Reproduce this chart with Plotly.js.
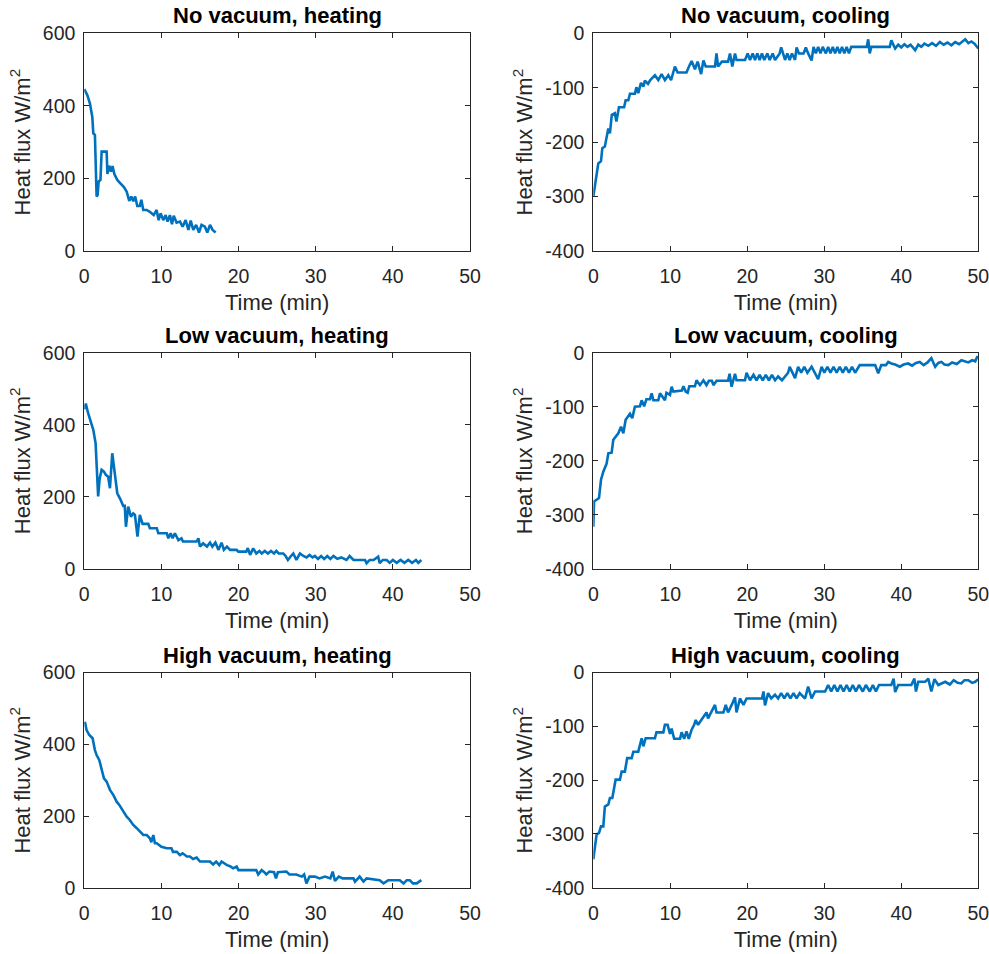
<!DOCTYPE html>
<html>
<head>
<meta charset="utf-8">
<script src="https://cdn.plot.ly/plotly-3.0.1.min.js"></script>
<style>
  html, body { margin: 0; padding: 0; background: #fff; }
  #chart { width: 989px; height: 954px; }
</style>
</head>
<body>
<div id="chart"></div>
<script>
// Heat flux measurements (W/m^2) against time (min) for three vacuum levels.

const panelTitles = [
  "No vacuum, heating", "No vacuum, cooling",
  "Low vacuum, heating", "Low vacuum, cooling",
  "High vacuum, heating", "High vacuum, cooling"
];

const xTickVals = [0, 10, 20, 30, 40, 50];
const xTickText = ["0", "10", "20", "30", "40", "50"];
const heatTickVals = [0, 200, 400, 600];
const heatTickText = ["0", "200", "400", "600"];
const coolTickVals = [-400, -300, -200, -100, 0];
const coolTickText = ["-400", "-300", "-200", "-100", "0"];

// No vacuum, heating
const noVacHeatT = [
  0, 0.39, 0.73, 1.04, 1.17, 1.38, 1.6, 1.73, 1.86, 2.1,
  2.25, 2.9, 3.0, 3.24, 3.46, 3.67, 3.9, 4.28, 4.62, 5.14,
  5.49, 5.83, 6.1, 6.35, 6.6, 6.87, 7.2, 7.4, 7.65, 8.1,
  8.5, 9.0, 9.38, 9.64, 9.9, 10.24, 10.55, 10.8, 11.1, 11.37,
  11.6, 11.97, 12.4, 12.75, 13.14, 13.5, 13.8, 14.13, 14.5, 14.87,
  15.2, 15.64, 15.95, 16.3, 16.64, 17.03
];
const noVacHeatQ = [
  446, 430, 407, 370, 324, 320, 150, 154, 191, 196,
  274, 274, 212, 235, 219, 234, 212, 196, 188, 176,
  164, 138, 150, 137, 150, 124, 124, 141, 113, 113,
  108, 99, 113, 85, 104, 85, 99, 81, 99, 74,
  97, 78, 81, 67, 85, 58, 84, 58, 72, 51,
  72, 67, 51, 72, 58, 51
];

// No vacuum, cooling
const noVacCoolT = [
  0, 0.22, 0.65, 1.0, 1.17, 1.5, 1.73, 1.95, 2.16, 2.4,
  2.8, 3.0, 3.33, 4.0, 4.2, 4.55, 4.76, 5.4, 5.6, 5.84,
  6.19, 6.5, 6.7, 7.1, 7.4, 8.0, 8.44, 8.87, 9.3, 9.74,
  10.1, 10.4, 10.6, 10.95, 12.1, 12.4, 12.77, 13.2, 13.55, 14.0,
  14.3, 14.6, 15.8, 16.0, 16.2, 16.7, 17.5, 17.75, 18.05, 18.4,
  18.6, 19.7, 20.05, 20.35, 20.7, 21.0, 21.3, 21.6, 21.9, 22.2,
  22.6, 22.9, 23.3, 23.6, 24.2, 24.4, 24.9, 25.2, 25.5, 25.8,
  26.2, 26.4, 26.7, 27.3, 27.6, 27.9, 28.35, 28.6, 28.9, 29.2,
  29.5, 29.8, 30.2, 30.5, 30.8, 31.1, 31.4, 31.7, 32.0, 32.3,
  32.6, 32.9, 33.2, 33.5, 33.8, 35.5, 35.7, 35.9, 36.1, 38.5,
  38.7, 39.2, 39.6, 40.0, 40.4, 40.8, 41.2, 41.8, 42.2, 42.6,
  43.0, 43.5, 44.0, 44.5, 45.0, 45.5, 46.0, 46.5, 47.0, 47.5,
  48.3, 48.7, 49.1, 49.5, 50
];
const noVacCoolQ = [
  -300, -282, -239, -235, -211, -208, -190, -175, -184, -150,
  -147, -162, -136, -136, -123, -123, -111, -111, -99, -110,
  -91, -98, -87, -93, -86, -77, -86, -75, -86, -77,
  -86, -72, -61, -72, -72, -62, -51, -66, -52, -75,
  -50, -61, -61, -37, -61, -52, -52, -37, -61, -37,
  -49, -49, -37, -49, -37, -49, -37, -49, -37, -49,
  -37, -49, -37, -49, -37, -26, -49, -37, -49, -37,
  -49, -26, -37, -37, -26, -37, -50, -25, -37, -25,
  -37, -25, -37, -25, -37, -25, -37, -25, -37, -25,
  -37, -25, -37, -25, -25, -25, -11, -37, -25, -25,
  -13, -28, -21, -26, -20, -25, -21, -31, -21, -25,
  -19, -23, -18, -23, -16, -21, -17, -22, -16, -20,
  -11, -18, -15, -19, -28
];

// Low vacuum, heating
const lowVacHeatT = [
  0, 0.2, 0.5, 0.8, 1.17, 1.47, 1.6, 1.8, 2.0, 2.25,
  2.55, 2.8, 3.1, 3.33, 3.63, 4.0, 4.28, 4.62, 5.05, 5.25,
  5.4, 5.7, 6.05, 6.35, 6.57, 6.9, 7.2, 7.56, 8.3, 8.5,
  9.4, 9.6, 10.7, 10.9, 11.2, 11.45, 11.75, 12.2, 12.6, 12.8,
  14.56, 14.8, 15.0, 15.4, 15.9, 16.3, 16.6, 17.0, 17.2, 17.4,
  17.8, 18.1, 18.5, 18.9, 19.75, 19.96, 21.0, 21.2, 21.5, 21.9,
  22.3, 22.7, 23.0, 23.4, 23.8, 24.2, 24.6, 24.9, 25.2, 25.8,
  26.1, 26.4, 26.8, 27.1, 27.5, 27.96, 28.4, 28.8, 29.2, 29.6,
  29.9, 30.3, 30.7, 31.1, 31.5, 31.9, 32.3, 32.8, 33.3, 34.0,
  34.4, 34.9, 36.4, 36.6, 37.0, 37.5, 38.1, 38.3, 38.7, 39.2,
  39.6, 40.0, 40.5, 41.0, 41.5, 42.0, 42.5, 43.0, 43.3, 43.7
];
const lowVacHeatQ = [
  443, 459, 432, 413, 386, 349, 275, 201, 251, 275,
  270, 261, 256, 224, 321, 256, 210, 196, 175, 175,
  117, 173, 145, 154, 150, 90, 150, 125, 125, 113,
  113, 99, 99, 85, 99, 85, 99, 80, 85, 76,
  76, 85, 62, 71, 62, 73, 62, 73, 62, 53,
  73, 53, 62, 53, 53, 48, 48, 58, 39, 57,
  43, 50, 43, 50, 43, 50, 43, 50, 43, 43,
  36, 25, 36, 43, 25, 43, 36, 32, 39, 32,
  36, 28, 36, 28, 36, 28, 36, 28, 32, 25,
  36, 25, 25, 16, 25, 25, 34, 16, 25, 25,
  17, 25, 17, 25, 17, 25, 17, 25, 17, 25
];

// Low vacuum, cooling
const lowVacCoolT = [
  0, 0.1, 0.43, 0.74, 1.0, 1.3, 1.73, 1.95, 2.38, 2.6,
  3.25, 3.6, 3.9, 4.2, 4.76, 5.06, 5.4, 6.06, 6.28, 6.6,
  6.9, 7.36, 7.58, 7.8, 8.44, 8.66, 9.3, 9.5, 9.96, 10.17,
  10.4, 11.5, 11.7, 12.0, 12.25, 12.47, 13.2, 13.4, 13.85, 14.3,
  14.7, 15.0, 15.4, 15.6, 16.0, 17.5, 17.7, 17.96, 18.4, 18.6,
  19.7, 19.9, 20.35, 20.8, 21.2, 21.6, 22.0, 22.4, 22.8, 23.2,
  23.6, 24.0, 24.5, 25.0, 25.3, 25.5, 26.2, 26.6, 27.0, 27.4,
  27.8, 28.35, 28.8, 29.2, 29.65, 30.0, 30.4, 30.8, 31.2, 31.6,
  32.0, 32.4, 32.8, 33.2, 33.6, 34.0, 34.6, 36.6, 37.0, 37.4,
  38.0, 38.3, 38.7, 39.2, 39.8, 40.3, 40.9, 41.4, 41.9, 42.4,
  42.9, 43.4, 43.9, 44.4, 44.8, 45.2, 45.6, 46.1, 46.6, 47.2,
  47.8, 48.3, 48.7, 49.2, 49.6, 49.9
];
const lowVacCoolQ = [
  -322, -275, -272, -269, -235, -220, -205, -186, -185, -161,
  -149, -137, -149, -124, -113, -121, -100, -99, -88, -99,
  -86, -86, -75, -88, -88, -75, -88, -74, -78, -63,
  -72, -70, -62, -72, -74, -62, -62, -51, -60, -51,
  -60, -52, -52, -60, -52, -52, -39, -63, -39, -51,
  -51, -37, -51, -41, -51, -41, -51, -41, -51, -41,
  -51, -44, -51, -41, -37, -26, -47, -26, -37, -26,
  -37, -26, -37, -49, -26, -37, -26, -37, -26, -37,
  -26, -37, -26, -37, -26, -37, -23, -23, -38, -23,
  -23, -17, -20, -22, -26, -22, -20, -24, -19, -17,
  -23, -18, -10, -26, -19, -17, -22, -23, -18, -21,
  -14, -17, -18, -14, -16, -6
];

// High vacuum, heating
const highVacHeatT = [
  0.08, 0.3, 0.65, 1.08, 1.38, 1.6, 1.95, 2.25, 2.55, 2.9,
  3.33, 3.76, 4.2, 4.54, 4.84, 5.14, 5.5, 5.9, 6.35, 6.8,
  7.2, 7.65, 8.1, 8.5, 8.7, 8.95, 9.16, 9.4, 10.0, 10.7,
  11.3, 11.5, 12.0, 12.4, 12.75, 13.3, 13.7, 14.1, 14.56, 15.0,
  16.3, 16.7, 17.1, 17.5, 17.8, 18.5, 18.9, 19.3, 19.75, 20.0,
  20.6, 22.3, 22.55, 23.0, 23.3, 23.6, 24.0, 24.6, 24.85, 25.1,
  26.2, 26.6, 27.5, 28.2, 28.5, 28.8, 29.2, 29.9, 30.5, 31.2,
  31.9, 32.2, 32.5, 33.0, 33.5, 34.0, 34.9, 35.1, 35.7, 36.2,
  36.6, 38.3, 38.8, 39.4, 40.9, 41.4, 41.8, 42.2, 42.6, 43.1,
  43.7
];
const highVacHeatQ = [
  463, 440, 426, 417, 384, 370, 356, 333, 305, 296,
  273, 259, 240, 231, 221, 212, 198, 189, 175, 166,
  156, 147, 147, 138, 127, 147, 124, 124, 114, 110,
  110, 100, 100, 91, 96, 87, 87, 80, 84, 73,
  73, 65, 73, 63, 73, 63, 60, 54, 59, 49,
  49, 49, 37, 49, 44, 37, 45, 43, 26, 43,
  45, 37, 37, 31, 37, 12, 31, 31, 26, 31,
  26, 45, 19, 31, 26, 26, 26, 17, 31, 17,
  26, 21, 12, 21, 21, 12, 21, 21, 12, 12,
  21
];

// High vacuum, cooling
const highVacCoolT = [
  0, 0.2, 0.43, 0.74, 1.0, 1.3, 1.5, 1.95, 2.16, 2.47,
  2.9, 3.46, 3.68, 4.1, 4.4, 4.98, 5.2, 5.84, 6.28, 6.5,
  6.8, 8.0, 8.2, 9.1, 9.3, 9.65, 9.96, 10.17, 10.5, 11.26,
  11.47, 11.8, 12.1, 12.4, 12.77, 13.1, 13.3, 13.6, 14.0, 14.3,
  14.7, 14.9, 15.4, 15.8, 16.0, 16.9, 17.2, 17.5, 17.97, 18.4,
  18.6, 19.05, 19.5, 19.9, 21.9, 22.1, 22.3, 22.7, 23.1, 23.6,
  24.0, 24.4, 24.8, 25.2, 25.6, 26.0, 26.4, 26.8, 27.5, 27.9,
  28.35, 28.8, 30.1, 30.5, 30.9, 31.3, 31.7, 32.1, 32.5, 32.9,
  33.3, 33.7, 34.1, 34.5, 35.0, 35.4, 35.9, 36.3, 36.7, 37.1,
  38.7, 39.0, 39.2, 39.6, 41.3, 41.7, 41.9, 42.2, 43.1, 43.5,
  43.9, 44.3, 44.8, 45.7, 46.3, 46.8, 47.3, 47.8, 48.2, 48.7,
  49.2, 49.6, 50
];
const highVacCoolQ = [
  -347, -326, -301, -298, -286, -286, -249, -245, -233, -233,
  -199, -199, -184, -184, -159, -159, -147, -147, -122, -137,
  -122, -122, -111, -111, -97, -97, -114, -104, -123, -123,
  -111, -123, -109, -123, -106, -97, -88, -97, -88, -83,
  -74, -85, -72, -60, -74, -74, -60, -74, -60, -46,
  -74, -48, -60, -48, -48, -35, -61, -38, -48, -41,
  -48, -38, -48, -38, -48, -38, -48, -38, -48, -26,
  -48, -35, -35, -23, -35, -23, -35, -23, -35, -23,
  -35, -23, -35, -23, -35, -23, -35, -23, -35, -23,
  -23, -11, -36, -23, -23, -11, -35, -17, -17, -11,
  -35, -12, -23, -17, -22, -14, -19, -20, -14, -14,
  -19, -17, -12
];

const panels = [
  { t: noVacHeatT,   q: noVacHeatQ,   kind: "heat" },
  { t: noVacCoolT,   q: noVacCoolQ,   kind: "cool" },
  { t: lowVacHeatT,  q: lowVacHeatQ,  kind: "heat" },
  { t: lowVacCoolT,  q: lowVacCoolQ,  kind: "cool" },
  { t: highVacHeatT, q: highVacHeatQ, kind: "heat" },
  { t: highVacCoolT, q: highVacCoolQ, kind: "cool" }
];

// Plot-area placement (paper fractions) for the 3x2 grid
const colDomains = [[0.0852, 0.4752], [0.5999, 0.9892]];
const rowDomains = [[0.7369, 0.9651], [0.4036, 0.6303], [0.0695, 0.2949]];

const FONT = "Liberation Sans, Arial, Helvetica, sans-serif";
const AXIS_COLOR = "#262626";
const LINE_COLOR = "#0072BD";

const traces = [];
const layout = {
  width: 989,
  height: 954,
  margin: { l: 0, r: 0, t: 0, b: 0 },
  paper_bgcolor: "#ffffff",
  plot_bgcolor: "#ffffff",
  showlegend: false,
  font: { family: FONT, color: AXIS_COLOR },
  annotations: []
};

function axisBase() {
  return {
    showline: true,
    linecolor: AXIS_COLOR,
    linewidth: 1,
    mirror: "ticks",
    ticks: "inside",
    ticklen: 5,
    tickwidth: 1,
    tickcolor: AXIS_COLOR,
    showgrid: false,
    zeroline: false,
    automargin: false,
    fixedrange: true,
    ticklabeloverflow: "allow",
    tickfont: { family: FONT, size: 19.5, color: AXIS_COLOR }
  };
}

panels.forEach((p, i) => {
  const n = i + 1;
  const row = Math.floor(i / 2);
  const col = i % 2;
  const xName = n === 1 ? "xaxis" : "xaxis" + n;
  const yName = n === 1 ? "yaxis" : "yaxis" + n;
  const xRef = n === 1 ? "x" : "x" + n;
  const yRef = n === 1 ? "y" : "y" + n;

  traces.push({
    type: "scatter",
    mode: "lines",
    x: p.t,
    y: p.q,
    xaxis: xRef,
    yaxis: yRef,
    line: { color: LINE_COLOR, width: 2.6 },
    hoverinfo: "skip"
  });

  layout[xName] = Object.assign(axisBase(), {
    domain: colDomains[col],
    anchor: yRef,
    range: [0, 50],
    tickmode: "array",
    tickvals: xTickVals,
    ticktext: xTickText,
    ticklabelstandoff: 8,
    title: { text: "Time (min)", font: { family: FONT, size: 22, color: AXIS_COLOR }, standoff: 8 }
  });

  const heat = p.kind === "heat";
  layout[yName] = Object.assign(axisBase(), {
    domain: rowDomains[row],
    anchor: xRef,
    range: heat ? [0, 600] : [-400, 0],
    tickmode: "array",
    tickvals: heat ? heatTickVals : coolTickVals,
    ticktext: heat ? heatTickText : coolTickText,
    ticklabelstandoff: 4,
    title: { text: "Heat flux W/m<sup>2</sup>", font: { family: FONT, size: 22, color: AXIS_COLOR }, standoff: 6 }
  });

  layout.annotations.push({
    text: "<b>" + panelTitles[i] + "</b>",
    xref: "paper",
    yref: "paper",
    x: (colDomains[col][0] + colDomains[col][1]) / 2,
    y: rowDomains[row][1],
    xanchor: "center",
    yanchor: "bottom",
    yshift: 3,
    showarrow: false,
    font: { family: FONT, size: 22, color: "#000000" }
  });
});

Plotly.newPlot("chart", traces, layout, { staticPlot: true, displayModeBar: false });
</script>
</body>
</html>
